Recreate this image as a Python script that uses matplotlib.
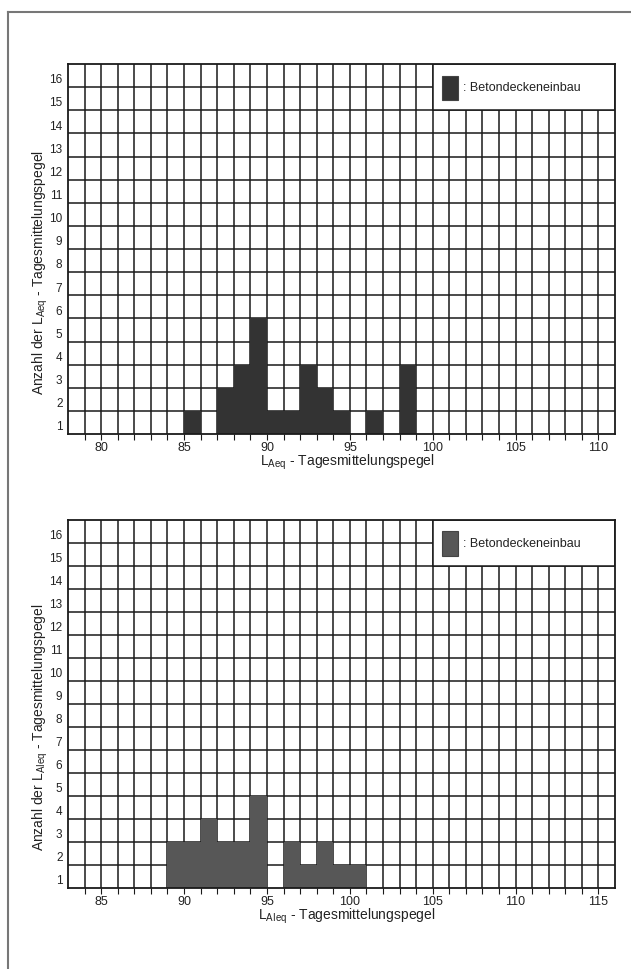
import numpy as np
import matplotlib.pyplot as plt
from matplotlib.patches import Rectangle
from matplotlib.lines import Line2D

plt.rcParams['font.family'] = ['Liberation Sans', 'DejaVu Sans']
plt.rcParams['mathtext.fontset'] = 'custom'
plt.rcParams['mathtext.rm'] = 'Liberation Sans'

# counts per 1 dB class (class start value)
top_bins = [85, 87, 88, 89, 90, 91, 92, 93, 94, 96, 98]
top_counts = [1, 2, 3, 5, 1, 1, 3, 2, 1, 1, 3]

bottom_bins = [89, 90, 91, 92, 93, 94, 96, 97, 98, 99, 100]
bottom_counts = [2, 2, 3, 2, 2, 4, 2, 1, 2, 1, 1]

legend_text = ': Betondeckeneinbau'
ylabel_top = r'Anzahl der L$_{\mathrm{Aeq}}$ - Tagesmittelungspegel'
xlabel_top = r'L$_{\mathrm{Aeq}}$ - Tagesmittelungspegel'
ylabel_bot = r'Anzahl der L$_{\mathrm{AIeq}}$ - Tagesmittelungspegel'
xlabel_bot = r'L$_{\mathrm{AIeq}}$ - Tagesmittelungspegel'

ymax = 16
txt = '#222222'


def draw(ax, bins, counts, xmin, xmax, color, xlabel, ylabel):
    ax.set_xlim(xmin, xmax)
    ax.set_ylim(0, ymax)
    # full grid, one cell per dB and per count
    for x in range(xmin + 1, xmax):
        ax.axvline(x, color='#1a1a1a', lw=1.1, zorder=1)
    for y in range(1, ymax):
        ax.axhline(y, color='#1a1a1a', lw=1.1, zorder=1)
    ax.bar(bins, counts, width=1, align='edge', color=color,
           edgecolor='none', zorder=2)

    # legend box in the upper right corner
    ax.add_patch(Rectangle((xmax - 11, ymax - 2), 11, 2, facecolor='white',
                           edgecolor='#1a1a1a', lw=1.1, zorder=3))
    ax.add_patch(Rectangle((xmax - 10.45, ymax - 1.55), 0.95, 1.05,
                           facecolor=color, edgecolor='#444444', lw=0.8, zorder=4))
    ax.text(xmax - 9.2, ymax - 1.0, legend_text, fontsize=9, color=txt,
            va='center', ha='left', zorder=5)

    ax.set_xticks(np.arange(xmin + 2, xmax, 5))
    ax.set_xticks(np.arange(xmin + 1, xmax), minor=True)
    ax.tick_params(axis='x', which='both', direction='out', length=4,
                   width=0.8, colors='#1a1a1a', labelsize=9, labelcolor=txt, pad=1)
    ax.set_yticks(np.arange(1, ymax + 1) - 0.6)
    ax.set_yticklabels([str(i) for i in range(1, ymax + 1)])
    ax.tick_params(axis='y', length=0, labelsize=8.5, labelcolor=txt, pad=4)
    for s in ax.spines.values():
        s.set_linewidth(1.3)
        s.set_color('#1a1a1a')
        s.set_zorder(6)

    ax.set_xlabel(xlabel, fontsize=10, color=txt)
    ax.xaxis.set_label_coords(0.51, -0.047)
    ax.set_ylabel(ylabel, fontsize=10, color=txt, va='center')
    ax.yaxis.set_label_coords(-0.05, 0.44)


fig = plt.figure(figsize=(6.31, 9.70), dpi=100)

ax1 = fig.add_axes([0.1078, 0.5515, 0.8669, 0.3815])
draw(ax1, top_bins, top_counts, 78, 111, '#333333', xlabel_top, ylabel_top)

ax2 = fig.add_axes([0.1078, 0.0835, 0.8669, 0.3794])
draw(ax2, bottom_bins, bottom_counts, 83, 116, '#575757', xlabel_bot, ylabel_bot)

# page frame
fig.add_artist(Line2D([0.0127, 1.0], [0.9866, 0.9866], color='#777777', lw=1.5))
fig.add_artist(Line2D([0.0127, 0.0127], [0.0, 0.9866], color='#777777', lw=1.5))

fig.savefig('out.png', dpi=100)
